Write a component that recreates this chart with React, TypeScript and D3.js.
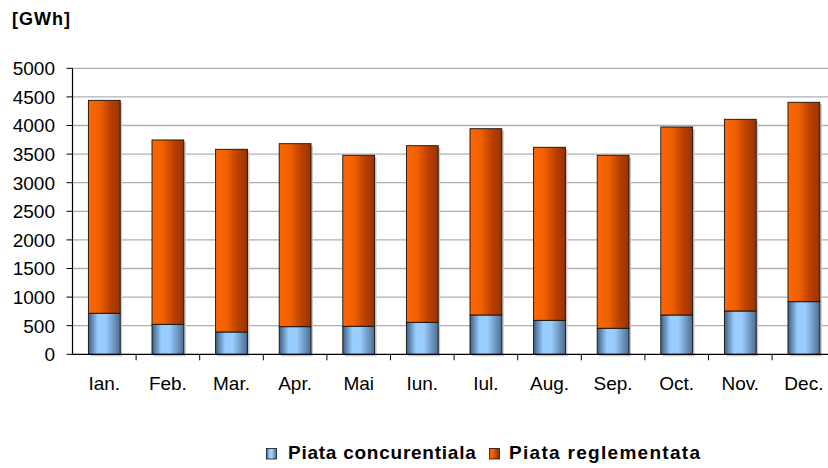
import React from "react";
import * as d3 from "d3";

const months = ["Ian.", "Feb.", "Mar.", "Apr.", "Mai", "Iun.", "Iul.", "Aug.", "Sep.", "Oct.", "Nov.", "Dec."];
const concurentiala = [717, 524, 390, 483, 490, 559, 687, 594, 455, 687, 757, 920];
const reglementata = [3723, 3223, 3194, 3199, 2989, 3088, 3257, 3025, 3024, 3287, 3351, 3486];
const yTicks = [0, 500, 1000, 1500, 2000, 2500, 3000, 3500, 4000, 4500, 5000];
const seriesNames = ["Piata concurentiala", "Piata reglementata"];

const W = 828;
const H = 468;
const left = 72.5;
const band = 63.6;
const top = 68.3;
const bottom = 354.3;

export default function App() {
  const x = d3.scaleBand<string>()
    .domain(months)
    .range([left, left + band * months.length])
    .paddingInner(0.5)
    .paddingOuter(0.25);
  const y = d3.scaleLinear().domain([0, 5000]).range([bottom, top]);

  const stack = d3.stack<number>()
    .keys(["c", "r"])
    .value((i, key) => (key === "c" ? concurentiala[i] : reglementata[i]));
  const stacked = stack(months.map((_, i) => i));

  const font = "'Liberation Sans', Arial, sans-serif";
  const fills = ["url(#gBlue)", "url(#gOrange)"];

  return (
    <svg width={W} height={H} style={{ position: "absolute", left: 0, top: 0 }} fontFamily={font}>
      <defs>
        <linearGradient id="gBlue" x1="0" x2="1" y1="0" y2="0">
          <stop offset="0" stopColor="#3f5f80" />
          <stop offset="0.3" stopColor="#99ccff" />
          <stop offset="0.55" stopColor="#99ccff" />
          <stop offset="1" stopColor="#4d6d8f" />
        </linearGradient>
        <linearGradient id="gOrange" x1="0" x2="1" y1="0" y2="0">
          <stop offset="0" stopColor="#ff6600" />
          <stop offset="0.35" stopColor="#f06000" />
          <stop offset="0.7" stopColor="#b84000" />
          <stop offset="1" stopColor="#993300" />
        </linearGradient>
      </defs>
      <rect width={W} height={H} fill="#fff" />
      <text x={12} y={24.5} fontSize={18} fontWeight="bold" letterSpacing={1}>[GWh]</text>

      {yTicks.map((t) => (
        <g key={t}>
          {t > 0 && (
            <line x1={left} x2={W} y1={y(t)} y2={y(t)} stroke="#b0b0b0" strokeWidth={1.3} />
          )}
          <line x1={left - 6} x2={left} y1={y(t)} y2={y(t)} stroke="#000" />
          <text x={55} y={y(t)} dy="0.36em" textAnchor="end" fontSize={19}>{t}</text>
        </g>
      ))}

      {stacked.map((layer, li) =>
        layer.map((d, i) => (
          <rect
            key={`s${li}-${i}`}
            x={(x(months[i]) ?? 0) + 2}
            y={y(d[1]) + 2}
            width={x.bandwidth()}
            height={y(d[0]) - y(d[1])}
            fill="#c8c8c8"
          />
        ))
      )}
      {stacked.map((layer, li) =>
        layer.map((d, i) => (
          <rect
            key={`b${li}-${i}`}
            x={x(months[i])}
            y={y(d[1])}
            width={x.bandwidth()}
            height={y(d[0]) - y(d[1])}
            fill={fills[li]}
            stroke="#111"
            strokeWidth={0.9}
          />
        ))
      )}

      <line x1={left} x2={left} y1={top} y2={bottom} stroke="#000" strokeWidth={1.2} />
      <line x1={left} x2={W} y1={bottom} y2={bottom} stroke="#000" strokeWidth={1.2} />
      {months.map((m, i) => (
        <line key={m} x1={left + band * (i + 1)} x2={left + band * (i + 1)} y1={bottom} y2={bottom + 6} stroke="#000" />
      ))}
      {months.map((m) => (
        <text key={m} x={(x(m) ?? 0) + x.bandwidth() / 2} y={389.5} textAnchor="middle" fontSize={19}>{m}</text>
      ))}

      <g fontSize={19} fontWeight="bold">
        <rect x={266.5} y={448.5} width={10} height={10.5} fill="url(#gBlue)" stroke="#111" strokeWidth={0.8} />
        <text x={288} y={459} letterSpacing={0.75}>{seriesNames[0]}</text>
        <rect x={489.5} y={448.5} width={10} height={10.5} fill="url(#gOrange)" stroke="#111" strokeWidth={0.8} />
        <text x={509} y={459} letterSpacing={1.3}>{seriesNames[1]}</text>
      </g>
    </svg>
  );
}
